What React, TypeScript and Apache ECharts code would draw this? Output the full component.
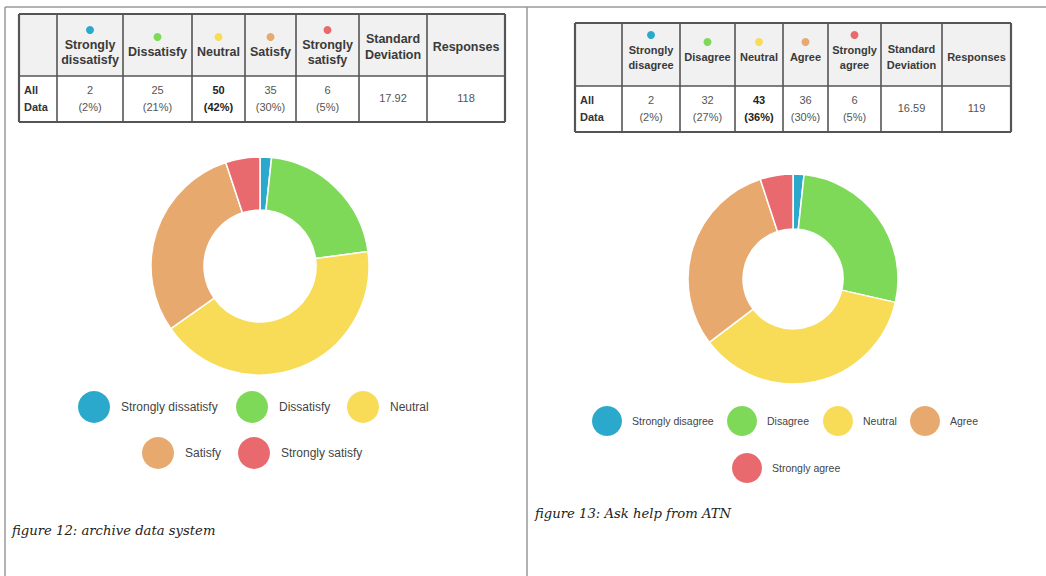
import React, { useEffect, useRef } from 'react';
import * as echarts from 'echarts';

// ---- data ----
const colors = ['#2aa9cc', '#7dd957', '#f8dc58', '#e8a96f', '#e96a6e'];

const leftCategories = ['Strongly dissatisfy', 'Dissatisfy', 'Neutral', 'Satisfy', 'Strongly satisfy'];
const leftValues = [2, 25, 50, 35, 6];
const leftStdDev = '17.92';
const leftResponses = 118;

const rightCategories = ['Strongly disagree', 'Disagree', 'Neutral', 'Agree', 'Strongly agree'];
const rightValues = [2, 32, 43, 36, 6];
const rightStdDev = '16.59';
const rightResponses = 119;

const extraHeaders = ['Standard Deviation', 'Responses'];
const rowLabel = 'All Data';
const captions = ['figure 12: archive data system', 'figure 13: Ask help from ATN'];

// ---- layout ----
const FONT = '"Liberation Sans", Arial, Helvetica, sans-serif';
const SERIF = '"DejaVu Serif", "Liberation Serif", serif';
const leftCols = [19, 57, 123, 192, 245, 296, 359, 427, 505];
const rightCols = [575, 622, 680, 735, 783, 828, 881, 942, 1011];

const leftLegendPos = [
  [78, 391], [236, 391], [347, 391], [142, 437], [238, 437],
];
const rightLegendPos = [
  [592, 406], [727, 406], [823, 406], [910, 406], [732, 453],
];

function txt(x: number, y: number, text: string, opts: any = {}) {
  return {
    type: 'text',
    x,
    y,
    silent: true,
    z: 10,
    style: {
      text,
      fill: opts.fill || '#333',
      fontSize: opts.fontSize || 12,
      fontWeight: opts.fontWeight || 'normal',
      fontFamily: opts.fontFamily || FONT,
      fontStyle: opts.fontStyle || 'normal',
      align: opts.align || 'center',
      verticalAlign: 'middle',
    },
  };
}

function ln(x1: number, y1: number, x2: number, y2: number, stroke: string, lineWidth: number) {
  return { type: 'line', silent: true, z: 11, shape: { x1, y1, x2, y2 }, style: { stroke, lineWidth } };
}

function buildTable(
  cols: number[], top: number, headerH: number, bodyH: number,
  categories: string[], values: number[], std: string, responses: number, dotC: number, hFont: number,
) {
  const els: any[] = [];
  const left = cols[0];
  const right = cols[cols.length - 1];
  const mid = top + headerH;
  const bottom = mid + bodyH;
  els.push({ type: 'rect', silent: true, z: 5, shape: { x: left, y: top, width: right - left, height: headerH }, style: { fill: '#f1f1f1' } });
  els.push({ type: 'rect', silent: true, z: 5, shape: { x: left, y: mid, width: right - left, height: bodyH }, style: { fill: '#ffffff' } });
  const border = '#555';
  cols.forEach((x, i) => {
    const w = i === 0 || i === cols.length - 1 ? 2.2 : 1.6;
    els.push(ln(x, top, x, bottom, border, w));
  });
  els.push(ln(left, top, right, top, border, 2.2));
  els.push(ln(left, mid, right, mid, border, 1.6));
  els.push(ln(left, bottom, right, bottom, border, 2.2));

  const total = values.reduce((a, b) => a + b, 0);
  const maxIdx = values.indexOf(Math.max(...values));
  const bodyC = mid + bodyH / 2 - 1;
  const hOpt = { fontWeight: 'bold', fontSize: hFont, fill: '#3a3a3a' };

  categories.forEach((cat, i) => {
    const cx = (cols[i + 1] + cols[i + 2]) / 2;
    const words = cat.split(' ');
    if (words.length > 1) {
      els.push({ type: 'circle', silent: true, z: 10, shape: { cx, cy: dotC - 15, r: 4 }, style: { fill: colors[i] } });
      els.push(txt(cx, dotC, words[0], hOpt));
      els.push(txt(cx, dotC + 15, words.slice(1).join(' '), hOpt));
    } else {
      els.push({ type: 'circle', silent: true, z: 10, shape: { cx, cy: dotC - 8, r: 4 }, style: { fill: colors[i] } });
      els.push(txt(cx, dotC + 7, cat, hOpt));
    }
    const bold = i === maxIdx;
    const o = { fontSize: 11, fill: bold ? '#222' : '#555', fontWeight: bold ? 'bold' : 'normal' };
    els.push(txt(cx, bodyC - 8.5, String(values[i]), o));
    els.push(txt(cx, bodyC + 8.5, '(' + Math.round((values[i] / total) * 100) + '%)', o));
  });

  // extra headers
  const hC = top + headerH / 2 + 2;
  const sx = (cols[6] + cols[7]) / 2;
  const rx = (cols[7] + cols[8]) / 2;
  const sdWords = extraHeaders[0].split(' ');
  els.push(txt(sx, hC - 8, sdWords[0], hOpt));
  els.push(txt(sx, hC + 8, sdWords[1], hOpt));
  els.push(txt(rx, hC, extraHeaders[1], hOpt));
  els.push(txt(sx, bodyC, std, { fontSize: 11, fill: '#555' }));
  els.push(txt(rx, bodyC, String(responses), { fontSize: 11, fill: '#555' }));

  // row label
  const rl = rowLabel.split(' ');
  els.push(txt(left + 5, bodyC - 8.5, rl[0], { fontSize: 11, fontWeight: 'bold', align: 'left' }));
  els.push(txt(left + 5, bodyC + 8.5, rl[1], { fontSize: 11, fontWeight: 'bold', align: 'left' }));
  return els;
}

function makeLegends(names: string[], pos: number[][], size: number, fontSize: number, gap: number) {
  return names.map((n, i) => ({
    data: [n],
    left: pos[i][0],
    top: pos[i][1],
    padding: 0,
    icon: 'circle',
    itemWidth: size,
    itemHeight: size,
    itemStyle: { borderWidth: 0 },
    selectedMode: false,
    textStyle: { fontSize, color: '#444', fontFamily: FONT, padding: [0, 0, 0, gap] },
  }));
}

export default function App() {
  const ref = useRef<HTMLDivElement>(null);
  useEffect(() => {
    document.body.style.margin = '0';
    if (!ref.current) return;
    const chart = echarts.init(ref.current, undefined, { renderer: 'svg' });

    const frame = [
      ln(5, 7, 1046, 7, '#999', 1.5),
      ln(5, 7, 5, 576, '#999', 1.5),
      ln(527, 7, 527, 576, '#999', 1.5),
    ];

    const capOpt = { fontFamily: SERIF, fontStyle: 'italic', fontSize: 13.2, fill: '#222', align: 'left' };
    const graphics = [
      ...frame,
      ...buildTable(leftCols, 14, 62, 46, leftCategories, leftValues, leftStdDev, leftResponses, 45, 12.5),
      ...buildTable(rightCols, 23, 63, 46, rightCategories, rightValues, rightStdDev, rightResponses, 50, 11),
      txt(12, 530, captions[0], capOpt),
      txt(535, 513, captions[1], capOpt),
    ];

    const pieCommon = {
      type: 'pie',
      startAngle: 90,
      clockwise: true,
      label: { show: false },
      labelLine: { show: false },
      itemStyle: { borderColor: '#ffffff', borderWidth: 1.5 },
      emphasis: { disabled: true },
    };

    chart.setOption({
      animation: false,
      backgroundColor: '#ffffff',
      color: colors,
      legend: [
        ...makeLegends(leftCategories, leftLegendPos, 32, 12, 6),
        ...makeLegends(rightCategories, rightLegendPos, 30, 10.5, 5),
      ],
      series: [
        {
          ...pieCommon,
          name: 'archive data system',
          center: [260, 266],
          radius: [56, 109],
          data: leftCategories.map((n, i) => ({ name: n, value: leftValues[i], itemStyle: { color: colors[i] } })),
        },
        {
          ...pieCommon,
          name: 'Ask help from ATN',
          center: [793, 279],
          radius: [50, 105],
          data: rightCategories.map((n, i) => ({ name: n, value: rightValues[i], itemStyle: { color: colors[i] } })),
        },
      ],
      graphic: graphics,
    });
    return () => chart.dispose();
  }, []);
  return <div ref={ref} style={{ width: 1046, height: 576 }} />;
}
